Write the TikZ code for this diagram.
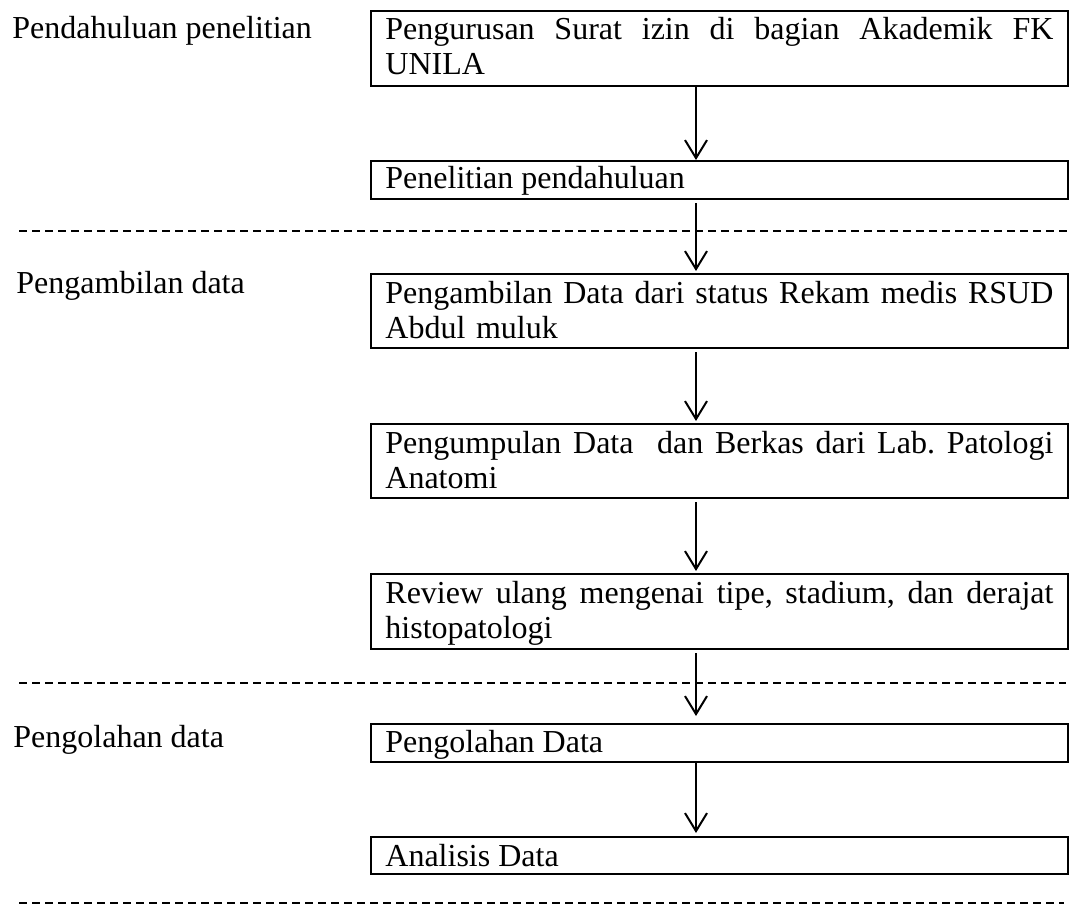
\documentclass[tikz,border=0pt]{standalone}
\usepackage{fontspec}
\setmainfont{Liberation Serif}
\usetikzlibrary{arrows.meta,calc}
\newcommand{\jline}[1]{\hbox to 334pt{#1}}
\begin{document}
\begin{tikzpicture}[x=0.5pt,y=-0.5pt,
  box/.style={draw, line width=1.2pt, rectangle, anchor=north west, inner sep=0pt, minimum width=348.5pt},
  txt/.style={anchor=base west, inner sep=0pt, font=\fontsize{16}{17.5}\selectfont, align=left},
  flow/.style={line width=1pt, -{Straight Barb[length=9pt,width=11pt,line width=1pt]}},
  sep/.style={dash pattern=on 4pt off 2.5pt, line width=1pt}]
\useasboundingbox (0,0) rectangle (1070,909);

% boxes
\node[box, minimum height=37.5pt] (b1) at (370,10) {};
\node[box, minimum height=19pt]   (b2) at (370,160) {};
\node[box, minimum height=37pt]   (b3) at (370,273) {};
\node[box, minimum height=37pt]   (b4) at (370,423) {};
\node[box, minimum height=37.5pt] (b5) at (370,573) {};
\node[box, minimum height=19pt]   (b6) at (370,723) {};
\node[box, minimum height=18.5pt] (b7) at (370,836) {};

% box texts
\node[txt, text width=334pt] (t1) at ($(b1.north west)+(15,30)$) {\jline{Pengurusan\hfill Surat\hfill izin\hfill di\hfill bagian\hfill Akademik\hfill FK}\\UNILA};
\node[txt] (t2) at ($(b2.north west)+(15,29)$) {Penelitian pendahuluan};
\node[txt, text width=334pt] (t3) at ($(b3.north west)+(15,30)$) {\jline{Pengambilan\hfill Data\hfill dari\hfill status\hfill Rekam\hfill medis\hfill RSUD}\\Abdul muluk};
\node[txt, text width=334pt] (t4) at ($(b4.north west)+(15,30)$) {\jline{Pengumpulan\hfill Data\hfill\hfill dan\hfill Berkas\hfill dari\hfill Lab.\hfill Patologi}\\Anatomi};
\node[txt, text width=334pt] (t5) at ($(b5.north west)+(15,30)$) {\jline{Review\hfill ulang\hfill mengenai\hfill tipe,\hfill stadium,\hfill dan\hfill derajat}\\histopatologi};
\node[txt] (t6) at ($(b6.north west)+(15,29)$) {Pengolahan Data};
\node[txt] (t7) at ($(b7.north west)+(15,30)$) {Analisis Data};

% stage labels
\node[txt] (l1) at (12,39) {Pendahuluan penelitian};
\node[txt] (l2) at (16,293) {Pengambilan data};
\node[txt] (l3) at (13,747) {Pengolahan data};

% connectors
\coordinate (ax) at (696,0);
\draw[flow] (b1.south -| ax) -- (b2.north -| ax);
\draw[flow, shorten <=1.5pt, shorten >=1pt] (b2.south -| ax) -- (b3.north -| ax);
\draw[flow, shorten <=1.5pt, shorten >=1pt] (b3.south -| ax) -- (b4.north -| ax);
\draw[flow, shorten <=1.5pt, shorten >=1pt] (b4.south -| ax) -- (b5.north -| ax);
\draw[flow, shorten <=1.5pt, shorten >=3.5pt] (b5.south -| ax) -- (b6.north -| ax);
\draw[flow, shorten >=1.5pt] (b6.south -| ax) -- (b7.north -| ax);

% separators
\coordinate (d1s) at (19,231);  \coordinate (d1e) at (1070,231);
\coordinate (d2s) at (19,683);  \coordinate (d2e) at (1066,683);
\coordinate (d3s) at (19,903);  \coordinate (d3e) at (1064,903);
\draw[sep] (d1s) -- (d1e);
\draw[sep] (d2s) -- (d2e);
\draw[sep] (d3s) -- (d3e);
\end{tikzpicture}
\end{document}
